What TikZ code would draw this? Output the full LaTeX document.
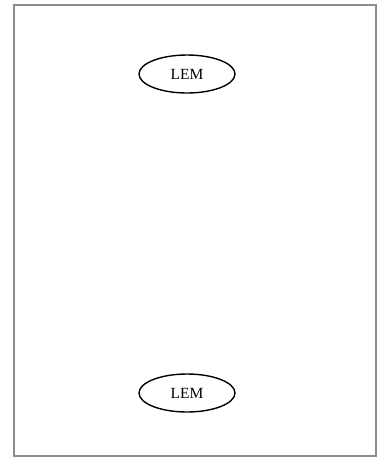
\documentclass[tikz,border=0pt]{standalone}
\usepackage{fontspec}
\setmainfont{Liberation Serif}
\usetikzlibrary{shapes.geometric}
\begin{document}
\begin{tikzpicture}[x=1pt,y=-1pt,
  lem/.style={draw=black,line width=1.4pt,ellipse,minimum width=96pt,minimum height=38pt,inner sep=0pt,font=\fontsize{15.5}{17}\selectfont}]
\useasboundingbox (0,0) rectangle (380,459);
\draw[line width=2pt,draw=black!45] (14,5) rectangle (376,456);
\node[lem] (a) at (187,74) {LEM};
\node[lem] (b) at (187,393) {LEM};
\end{tikzpicture}
\end{document}
